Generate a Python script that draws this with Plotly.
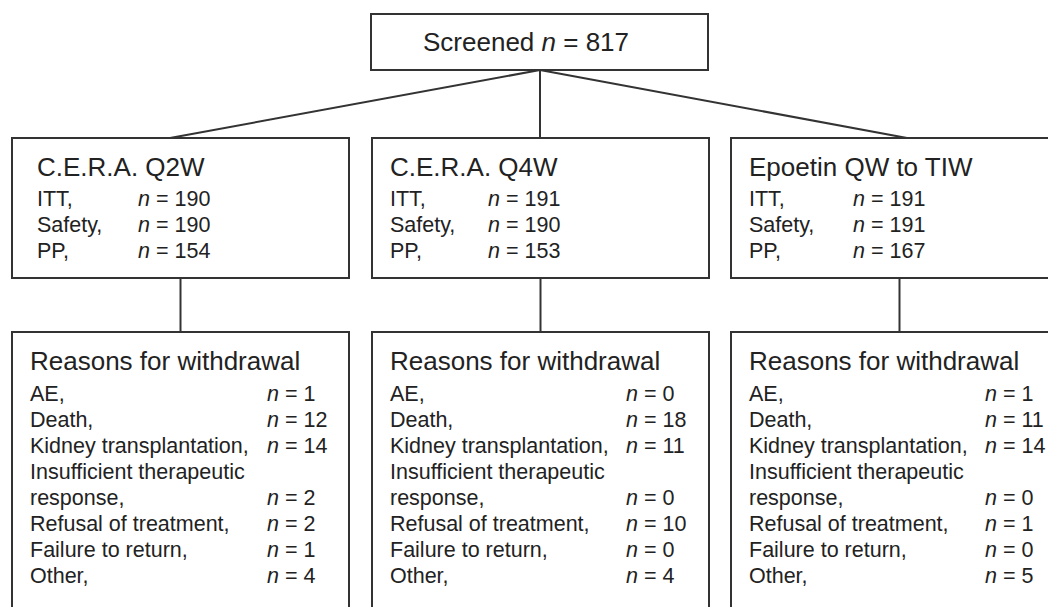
import plotly.graph_objects as go

# ---- data ----
screened = 817
arms = ["C.E.R.A. Q2W", "C.E.R.A. Q4W", "Epoetin QW to TIW"]
pop_labels = ["ITT,", "Safety,", "PP,"]
itt = [190, 191, 191]
safety = [190, 190, 191]
pp = [154, 153, 167]
reason_labels = ["AE,", "Death,", "Kidney transplantation,", "Insufficient therapeutic",
                 "response,", "Refusal of treatment,", "Failure to return,", "Other,"]
ae = [1, 0, 1]
death = [12, 18, 11]
kidney = [14, 11, 14]
insufficient = [2, 0, 0]
refusal = [2, 10, 1]
failure = [1, 0, 0]
other = [4, 4, 5]

# ---- layout helpers ----
W, H = 1056, 607
OFF = 8  # page body margin compensation
FONT = "Liberation Sans, Arial, sans-serif"
TXT = "#222222"
LINE = "#333333"
BIG, SMALL = 26, 21.5

fig = go.Figure()
shapes = []
annotations = []


def box(x0, y0, x1, y1):
    shapes.append(dict(type="rect", xref="x", yref="y", x0=x0, y0=y0, x1=x1, y1=y1,
                       line=dict(color=LINE, width=2), fillcolor="rgba(0,0,0,0)"))


def seg(x0, y0, x1, y1):
    shapes.append(dict(type="line", xref="x", yref="y", x0=x0, y0=y0, x1=x1, y1=y1,
                       line=dict(color=LINE, width=2)))


def text(x, baseline, s, size):
    annotations.append(dict(x=x - 1.5, y=baseline - 0.35 * size, xref="x", yref="y",
                            text=s, showarrow=False, xanchor="left", yanchor="middle",
                            borderpad=0,
                            font=dict(family=FONT, size=size, color=TXT)))


def n_txt(v):
    return f"<i>n</i> = {v}"


# top box
box(371, 14, 708, 70)
text(423, 51, f"Screened <i>n</i> = {screened}", BIG)

mid_x0 = [12, 372, 731]
box_w = 337
conn_x = [170, 540, 907]
title_x = [37, 390, 749]
ncol_mid = [138, 488, 853]
bot_text_x = [30, 390, 749]
ncol_bot = [267, 626, 985]

for i, arm in enumerate(arms):
    x0 = mid_x0[i]
    cx = x0 + box_w / 2
    seg(540, 70, conn_x[i], 138)
    box(x0, 138, x0 + box_w, 278)
    seg(cx, 278, cx, 332)
    box(x0, 332, x0 + box_w, 720)

    text(title_x[i], 176, arm, BIG)
    vals = [itt[i], safety[i], pp[i]]
    for r, (lab, v) in enumerate(zip(pop_labels, vals)):
        bl = 207 + 26 * r
        text(title_x[i], bl, lab, SMALL)
        text(ncol_mid[i], bl, n_txt(v), SMALL)

    text(bot_text_x[i], 370, "Reasons for withdrawal", BIG)
    rvals = [ae[i], death[i], kidney[i], None, insufficient[i], refusal[i], failure[i], other[i]]
    for r, (lab, v) in enumerate(zip(reason_labels, rvals)):
        bl = 402 + 26 * r
        text(bot_text_x[i], bl, lab, SMALL)
        if v is not None:
            text(ncol_bot[i], bl, n_txt(v), SMALL)

fig.update_layout(
    width=W, height=H,
    margin=dict(l=0, r=0, t=0, b=0),
    paper_bgcolor="white", plot_bgcolor="white",
    xaxis=dict(range=[OFF, W + OFF], visible=False, fixedrange=True),
    yaxis=dict(range=[H + OFF, OFF], visible=False, fixedrange=True),
    shapes=shapes, annotations=annotations, showlegend=False,
)

fig.write_html("out.html")
